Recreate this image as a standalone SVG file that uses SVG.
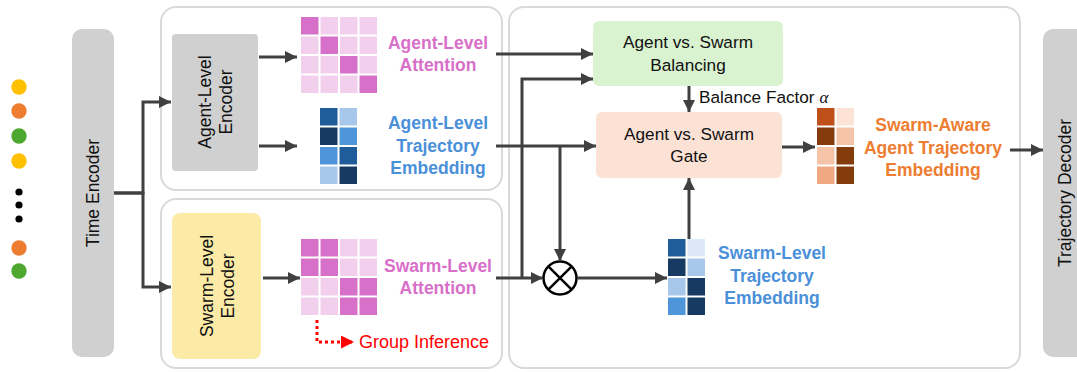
<svg xmlns="http://www.w3.org/2000/svg" width="1077" height="372" viewBox="0 0 1077 372">
<style>
.panel{fill:#fff;stroke:#d9d9d9;stroke-width:2}
.gray{fill:#d0d0d0}
.lbl{font-family:"Liberation Sans",Arial,sans-serif;font-size:17.5px;fill:#111;text-anchor:middle}
.box{font-family:"Liberation Sans",Arial,sans-serif;font-size:17.2px;fill:#111;text-anchor:middle}
.bold{font-family:"Liberation Sans",Arial,sans-serif;font-size:17.5px;font-weight:bold;text-anchor:middle}
.pink{fill:#d86fc9}
.blue{fill:#4a90d9}
.orange{fill:#ed7d31}
.conn{fill:none;stroke:#404040;stroke-width:3}
.dp{fill:#d770c8}.lp{fill:#f2cfec}
.b1{fill:#1f5c99}.b2{fill:#173a63}.b3{fill:#4e95d9}.b4{fill:#a7c8eb}.b5{fill:#dce8f6}
.o1{fill:#c0501a}.o2{fill:#843c0c}.o3{fill:#f5c4a8}.o4{fill:#f0a882}.o5{fill:#fce3d6}
</style>
<defs>
<marker id="ah" viewBox="0 0 12 12" refX="12" refY="6" markerWidth="12" markerHeight="12" markerUnits="userSpaceOnUse" orient="auto">
<path d="M0,0 L12,6 L0,12 z" fill="#404040"/>
</marker>
<marker id="ahr" viewBox="0 0 12 12" refX="12" refY="6" markerWidth="13" markerHeight="13" markerUnits="userSpaceOnUse" orient="auto">
<path d="M0,0 L12,6 L0,12 z" fill="#ff0000"/>
</marker>
</defs>

<g id="inputs">
<circle cx="19" cy="87" r="7.7" fill="#ffc000"/>
<circle cx="19" cy="111" r="7.7" fill="#ed7d31"/>
<circle cx="19" cy="136" r="7.7" fill="#4ea72e"/>
<circle cx="19" cy="161" r="7.7" fill="#ffc000"/>
<circle cx="19" cy="192" r="3.6" fill="#000"/>
<circle cx="19" cy="205" r="3.6" fill="#000"/>
<circle cx="19" cy="219" r="3.6" fill="#000"/>
<circle cx="19" cy="248" r="7.7" fill="#ed7d31"/>
<circle cx="19" cy="271" r="7.7" fill="#4ea72e"/>
</g>

<g id="time-encoder">
<rect x="72" y="29" width="42" height="328" rx="10" class="gray"/>
<text class="lbl" transform="translate(99,193) rotate(-90)">Time Encoder</text>
</g>

<g id="agent-panel">
<rect x="161" y="7" width="341" height="183" rx="15" class="panel"/>
</g>
<g id="swarm-panel">
<rect x="161" y="199" width="341" height="169" rx="15" class="panel"/>
</g>
<g id="fusion-panel">
<rect x="509" y="7" width="511" height="361" rx="15" class="panel"/>
</g>

<g id="agent-encoder">
<rect x="172" y="34" width="86" height="137" rx="4" class="gray"/>
<text class="lbl" transform="translate(215,102) rotate(-90)"><tspan x="0" y="-4">Agent-Level</tspan><tspan x="0" y="17">Encoder</tspan></text>
</g>

<g id="swarm-encoder">
<rect x="172" y="213" width="89" height="146" rx="8" fill="#fbeba7"/>
<text class="lbl" transform="translate(217,286) rotate(-90)"><tspan x="0" y="-4">Swarm-Level</tspan><tspan x="0" y="17">Encoder</tspan></text>
</g>

<g id="agent-attention">
<g transform="translate(301,17)">
<rect x="0" y="0" width="17.5" height="17.5" class="dp"/><rect x="19.5" y="0" width="17.5" height="17.5" class="lp"/><rect x="39" y="0" width="17.5" height="17.5" class="lp"/><rect x="58.5" y="0" width="17.5" height="17.5" class="lp"/>
<rect x="0" y="19.5" width="17.5" height="17.5" class="lp"/><rect x="19.5" y="19.5" width="17.5" height="17.5" class="dp"/><rect x="39" y="19.5" width="17.5" height="17.5" class="lp"/><rect x="58.5" y="19.5" width="17.5" height="17.5" class="lp"/>
<rect x="0" y="39" width="17.5" height="17.5" class="lp"/><rect x="19.5" y="39" width="17.5" height="17.5" class="lp"/><rect x="39" y="39" width="17.5" height="17.5" class="dp"/><rect x="58.5" y="39" width="17.5" height="17.5" class="lp"/>
<rect x="0" y="58.5" width="17.5" height="17.5" class="lp"/><rect x="19.5" y="58.5" width="17.5" height="17.5" class="lp"/><rect x="39" y="58.5" width="17.5" height="17.5" class="lp"/><rect x="58.5" y="58.5" width="17.5" height="17.5" class="dp"/>
</g>
<text class="bold pink" x="438" y="49">Agent-Level</text>
<text class="bold pink" x="438" y="71">Attention</text>
</g>

<g id="agent-embedding">
<g transform="translate(320,108)">
<rect x="0" y="0" width="17.5" height="17.5" class="b1"/><rect x="19.5" y="0" width="17.5" height="17.5" class="b4"/>
<rect x="0" y="19.5" width="17.5" height="17.5" class="b2"/><rect x="19.5" y="19.5" width="17.5" height="17.5" class="b3"/>
<rect x="0" y="39" width="17.5" height="17.5" class="b3"/><rect x="19.5" y="39" width="17.5" height="17.5" class="b1"/>
<rect x="0" y="58.5" width="17.5" height="17.5" class="b4"/><rect x="19.5" y="58.5" width="17.5" height="17.5" class="b2"/>
</g>
<text class="bold blue" x="438" y="129">Agent-Level</text>
<text class="bold blue" x="438" y="152">Trajectory</text>
<text class="bold blue" x="438" y="174">Embedding</text>
</g>

<g id="swarm-attention">
<g transform="translate(301,239)">
<rect x="0" y="0" width="17.5" height="17.5" class="dp"/><rect x="19.5" y="0" width="17.5" height="17.5" class="dp"/><rect x="39" y="0" width="17.5" height="17.5" class="lp"/><rect x="58.5" y="0" width="17.5" height="17.5" class="lp"/>
<rect x="0" y="19.5" width="17.5" height="17.5" class="dp"/><rect x="19.5" y="19.5" width="17.5" height="17.5" class="dp"/><rect x="39" y="19.5" width="17.5" height="17.5" class="lp"/><rect x="58.5" y="19.5" width="17.5" height="17.5" class="lp"/>
<rect x="0" y="39" width="17.5" height="17.5" class="lp"/><rect x="19.5" y="39" width="17.5" height="17.5" class="lp"/><rect x="39" y="39" width="17.5" height="17.5" class="dp"/><rect x="58.5" y="39" width="17.5" height="17.5" class="dp"/>
<rect x="0" y="58.5" width="17.5" height="17.5" class="lp"/><rect x="19.5" y="58.5" width="17.5" height="17.5" class="lp"/><rect x="39" y="58.5" width="17.5" height="17.5" class="dp"/><rect x="58.5" y="58.5" width="17.5" height="17.5" class="dp"/>
</g>
<text class="bold pink" x="438" y="272">Swarm-Level</text>
<text class="bold pink" x="438" y="294">Attention</text>
</g>

<g id="group-inference">
<path d="M317,320 V342 H354" fill="none" stroke="#ff0000" stroke-width="3" stroke-dasharray="3,3" marker-end="url(#ahr)"/>
<text x="359" y="348" font-family="Liberation Sans, Arial, sans-serif" font-size="18px" fill="#ff0000">Group Inference</text>
</g>

<g id="balancing">
<rect x="593" y="21" width="190" height="65" rx="6" fill="#d9f2d0"/>
<text class="box" x="688" y="48">Agent vs. Swarm</text>
<text class="box" x="688" y="71">Balancing</text>
</g>
<text x="699" y="103" font-family="Liberation Sans, Arial, sans-serif" font-size="17.2px" fill="#111">Balance Factor <tspan font-family="Liberation Serif, serif" font-style="italic">α</tspan></text>

<g id="gate">
<rect x="596" y="112" width="186" height="66" rx="6" fill="#fbe2d5"/>
<text class="box" x="689" y="140">Agent vs. Swarm</text>
<text class="box" x="689" y="162">Gate</text>
</g>

<g id="multiply">
<circle cx="560" cy="278" r="16.5" fill="#fff" stroke="#000" stroke-width="2.5"/>
<path d="M548.3,266.3 L571.7,289.7 M571.7,266.3 L548.3,289.7" stroke="#000" stroke-width="2.5"/>
</g>

<g id="swarm-embedding">
<g transform="translate(668,239)">
<rect x="0" y="0" width="17.5" height="17.5" class="b1"/><rect x="19.5" y="0" width="17.5" height="17.5" class="b5"/>
<rect x="0" y="19.5" width="17.5" height="17.5" class="b2"/><rect x="19.5" y="19.5" width="17.5" height="17.5" class="b4"/>
<rect x="0" y="39" width="17.5" height="17.5" class="b4"/><rect x="19.5" y="39" width="17.5" height="17.5" class="b2"/>
<rect x="0" y="58.5" width="17.5" height="17.5" class="b3"/><rect x="19.5" y="58.5" width="17.5" height="17.5" class="b2"/>
</g>
<text class="bold blue" x="772" y="259">Swarm-Level</text>
<text class="bold blue" x="772" y="282">Trajectory</text>
<text class="bold blue" x="772" y="304">Embedding</text>
</g>

<g id="output-embedding">
<g transform="translate(817,108)">
<rect x="0" y="0" width="17.5" height="17.5" class="o1"/><rect x="19.5" y="0" width="17.5" height="17.5" class="o5"/>
<rect x="0" y="19.5" width="17.5" height="17.5" class="o2"/><rect x="19.5" y="19.5" width="17.5" height="17.5" class="o3"/>
<rect x="0" y="39" width="17.5" height="17.5" class="o3"/><rect x="19.5" y="39" width="17.5" height="17.5" class="o2"/>
<rect x="0" y="58.5" width="17.5" height="17.5" class="o4"/><rect x="19.5" y="58.5" width="17.5" height="17.5" class="o2"/>
</g>
<text class="bold orange" x="933" y="131">Swarm-Aware</text>
<text class="bold orange" x="933" y="154">Agent Trajectory</text>
<text class="bold orange" x="933" y="176">Embedding</text>
</g>

<g id="trajectory-decoder">
<rect x="1043" y="29" width="50" height="328" rx="10" class="gray"/>
<text class="lbl" transform="translate(1071,193) rotate(-90)">Trajectory Decoder</text>
</g>

<g id="connectors">
<path class="conn" d="M114,193 H143 V102 H171" marker-end="url(#ah)"/>
<path class="conn" d="M114,193 H143 V287 H171" marker-end="url(#ah)"/>
<path class="conn" d="M259,57 H297" marker-end="url(#ah)"/>
<path class="conn" d="M259,146 H297" marker-end="url(#ah)"/>
<path class="conn" d="M263,278 H300" marker-end="url(#ah)"/>
<path class="conn" d="M496,54 H593" marker-end="url(#ah)"/>
<path class="conn" d="M496,278 H543" marker-end="url(#ah)"/>
<path class="conn" d="M522,278 V79 H593" marker-end="url(#ah)"/>
<path class="conn" d="M496,146 H596" marker-end="url(#ah)"/>
<path class="conn" d="M560,146 V261" marker-end="url(#ah)"/>
<path class="conn" d="M577,278 H667" marker-end="url(#ah)"/>
<path class="conn" d="M689,239 V178" marker-end="url(#ah)"/>
<path class="conn" d="M689,86 V112" marker-end="url(#ah)"/>
<path class="conn" d="M782,147 H815" marker-end="url(#ah)"/>
<path class="conn" d="M1010,150 H1043" marker-end="url(#ah)"/>
</g>
</svg>
